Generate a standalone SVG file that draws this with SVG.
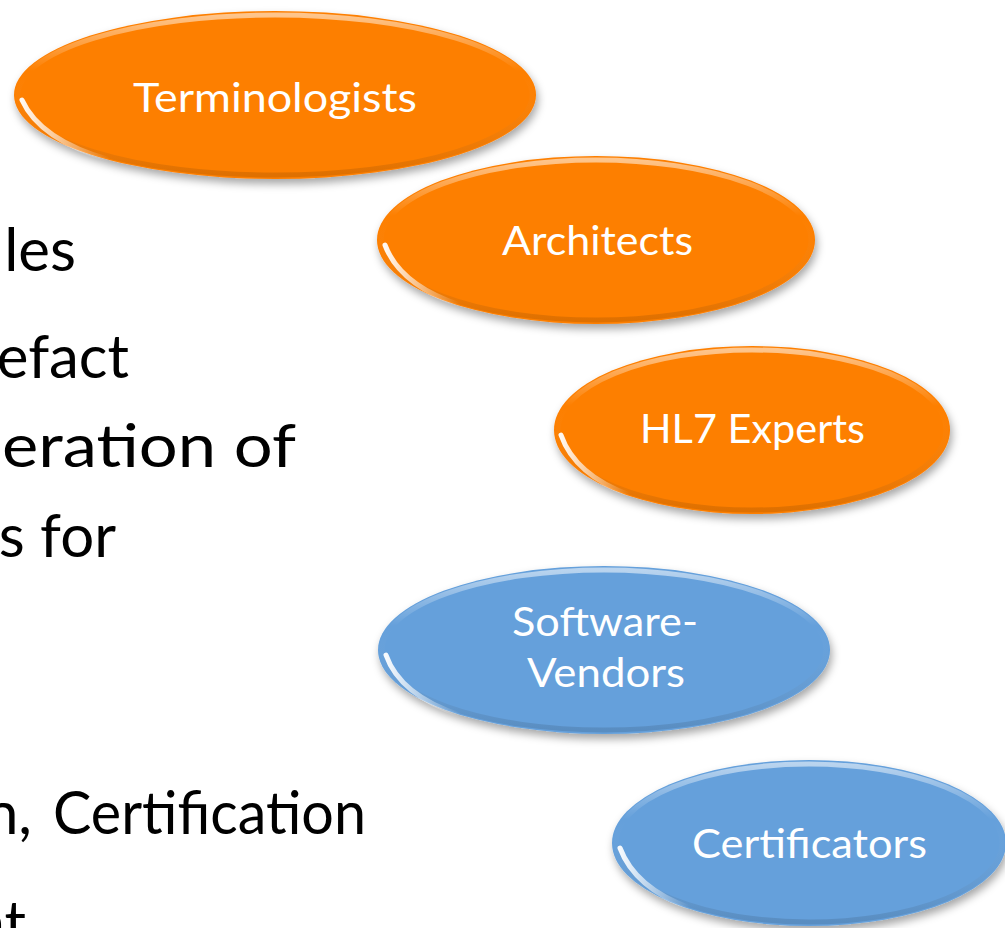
<svg xmlns="http://www.w3.org/2000/svg" width="1005" height="928" viewBox="0 0 1005 928">
<style>
.lbl{font-family:"Lato","Open Sans",sans-serif;font-size:41px;fill:#ffffff;text-anchor:middle}
.body{font-family:"Lato","Open Sans",sans-serif;font-size:60px;fill:#000000;text-anchor:end}
.org{fill:#FD7F00}
.blu{fill:#65A0DB}
.rim{fill:none;stroke:url(#rimG);stroke-width:5}
.gloss{fill:none;stroke:url(#glossG);stroke-width:5;stroke-linecap:round}
</style>
<defs>
<filter id="sh" x="-10%" y="-20%" width="120%" height="150%">
<feDropShadow dx="2" dy="5" stdDeviation="4" flood-color="#000" flood-opacity="0.35"/>
</filter>
<linearGradient id="rimG" x1="0" y1="0" x2="0" y2="1">
<stop offset="0" stop-color="#fff" stop-opacity="0.55"/>
<stop offset="0.35" stop-color="#fff" stop-opacity="0"/>
<stop offset="1" stop-color="#000" stop-opacity="0.12"/>
</linearGradient>
<linearGradient id="glossG" x1="0" y1="0" x2="1" y2="0">
<stop offset="0" stop-color="#fff" stop-opacity="0.95"/>
<stop offset="1" stop-color="#fff" stop-opacity="0"/>
</linearGradient>
</defs>
<rect width="1005" height="928" fill="#ffffff"/>
<g id="bodytext">
<text class="body" x="76" y="271">les</text>
<text class="body" x="129" y="378">efact</text>
<text class="body" x="296" y="467" textLength="294" lengthAdjust="spacingAndGlyphs">eration of</text>
<text class="body" x="116" y="557">s for</text>
<text class="body" x="32" y="834">n,</text>
<text class="body" x="366" y="834" textLength="313" lengthAdjust="spacingAndGlyphs">Certification</text>
<text class="body" x="26" y="944">nt</text>
</g>
<g id="terminologists">
<ellipse class="org" cx="275" cy="95" rx="261" ry="84" filter="url(#sh)"/>
<ellipse class="rim" cx="275" cy="95" rx="257" ry="80"/>
<path class="gloss" d="M22,100 Q40,140 110,160"/>
<text class="lbl" x="275" y="112" textLength="284" lengthAdjust="spacingAndGlyphs">Terminologists</text>
</g>
<g id="architects">
<ellipse class="org" cx="596" cy="240" rx="219" ry="84" filter="url(#sh)"/>
<ellipse class="rim" cx="596" cy="240" rx="215" ry="80"/>
<path class="gloss" d="M385,245 Q400,285 460,305"/>
<text class="lbl" x="597.5" y="255" textLength="191" lengthAdjust="spacingAndGlyphs">Architects</text>
</g>
<g id="hl7experts">
<ellipse class="org" cx="752" cy="430" rx="198" ry="84" filter="url(#sh)"/>
<ellipse class="rim" cx="752" cy="430" rx="194" ry="80"/>
<path class="gloss" d="M561,435 Q575,475 630,495"/>
<text class="lbl" x="752.5" y="443" textLength="225" lengthAdjust="spacingAndGlyphs">HL7 Experts</text>
</g>
<g id="softwarevendors">
<ellipse class="blu" cx="604" cy="650" rx="226" ry="84" filter="url(#sh)"/>
<ellipse class="rim" cx="604" cy="650" rx="222" ry="80"/>
<path class="gloss" d="M386,655 Q400,695 460,715"/>
<text class="lbl" x="605" y="636" textLength="186" lengthAdjust="spacingAndGlyphs">Software-</text>
<text class="lbl" x="606" y="687" textLength="158" lengthAdjust="spacingAndGlyphs">Vendors</text>
</g>
<g id="certificators">
<ellipse class="blu" cx="809" cy="843" rx="197" ry="83" filter="url(#sh)"/>
<ellipse class="rim" cx="809" cy="843" rx="193" ry="79"/>
<path class="gloss" d="M620,848 Q635,888 690,908"/>
<text class="lbl" x="809.5" y="858" textLength="235" lengthAdjust="spacingAndGlyphs">Certificators</text>
</g>
</svg>
